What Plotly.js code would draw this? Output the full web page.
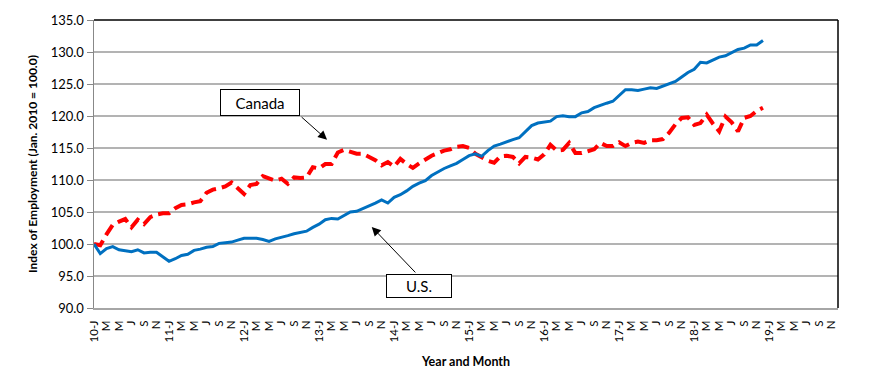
<!DOCTYPE html>
<html>
<head>
<meta charset="utf-8">
<script src="https://cdn.plot.ly/plotly-3.0.1.min.js"></script>
<style>
html,body{margin:0;padding:0;background:#fff;}
#chart{width:870px;height:379px;}
</style>
</head>
<body>
<div id="chart"></div>
<script>
// Categories: monthly, Jan 2010 - Dec 2019
const months = [];
for (let y = 2010; y <= 2019; y++) {
  for (let m = 1; m <= 12; m++) months.push(y + '-' + (m < 10 ? '0' + m : m));
}

// Tick labels shown every second month
const tickLabels = [
  '10-J','M','M','J','S','N',
  '11-J','M','M','J','S','N',
  '12-J','M','M','J','S','N',
  '13-J','M','M','J','S','N',
  '14-J','M','M','J','S','N',
  '15-J','M','M','J','S','N',
  '16-J','M','M','J','S','N',
  '17-J','M','M','J','S','N',
  '18-J','M','M','J','S','N',
  '19-J','M','M','J','S','N'
];

// U.S. index of employment (Jan 2010 = 100), Jan 2010 - Dec 2018
const usValues = [
  100.0, 98.5, 99.3, 99.6, 99.1, 99.0, 98.8, 99.1, 98.6, 98.7, 98.7, 98.0,
  97.3, 97.7, 98.2, 98.4, 99.0, 99.2, 99.5, 99.6, 100.1, 100.2, 100.3, 100.6,
  100.9, 100.9, 100.9, 100.7, 100.4, 100.8, 101.0, 101.3, 101.6, 101.8, 102.0, 102.6,
  103.1, 103.8, 104.0, 103.9, 104.5, 105.0, 105.1, 105.5, 106.0, 106.4, 106.9, 106.4,
  107.3, 107.7, 108.3, 109.0, 109.5, 109.9, 110.7, 111.3, 111.8, 112.2, 112.6, 113.2,
  113.8, 114.1, 113.7, 114.6, 115.3, 115.6, 116.0, 116.3, 116.6, 117.5, 118.5, 118.9,
  119.0, 119.2, 119.9, 120.05, 119.9, 119.9, 120.5, 120.7, 121.3, 121.7, 122.0, 122.3,
  123.2, 124.1, 124.1, 124.0, 124.2, 124.4, 124.3, 124.7, 125.1, 125.4, 126.1, 126.8,
  127.3, 128.4, 128.3, 128.7, 129.2, 129.4, 129.9, 130.4, 130.6, 131.1, 131.1, 131.8
];

// Canada index of employment (Jan 2010 = 100), Jan 2010 - Dec 2018
const canadaValues = [
  100.0, 99.8, 101.5, 103.0, 103.5, 103.9, 102.6, 103.8, 103.1, 104.2, 104.6, 104.8,
  104.8, 105.6, 106.1, 106.2, 106.5, 106.7, 108.0, 108.5, 108.7, 109.0, 109.6, 108.6,
  107.8, 109.2, 109.4, 110.6, 110.2, 109.9, 110.2, 109.4, 110.4, 110.3, 110.4, 112.0,
  111.8, 112.5, 112.5, 114.3, 114.7, 114.4, 114.1, 114.1, 113.6, 113.1, 112.3, 112.8,
  112.1, 113.3, 112.5, 111.9, 112.6, 113.2, 113.8, 114.2, 114.6, 114.8, 115.2, 115.3,
  115.0, 114.1, 113.5, 113.0, 112.7, 113.7, 113.8, 113.6, 112.6, 113.6, 113.5, 113.2,
  114.0, 115.5, 114.6, 114.7, 115.8, 114.2, 114.2, 114.5, 114.8, 115.8, 115.3, 115.3,
  115.9, 115.3, 115.8, 116.0, 115.8, 116.2, 116.2, 116.4, 117.4, 118.7, 119.7, 119.8,
  118.6, 118.9, 120.2, 118.8, 117.6, 119.9, 119.0, 117.6, 119.7, 120.0, 120.8, 121.3
];

const tickVals = months.filter((_, i) => i % 2 === 0);
const FONT = 'Lato, "Open Sans", sans-serif';

const traces = [
  {
    x: months.slice(0, canadaValues.length),
    y: canadaValues,
    type: 'scatter', mode: 'lines', name: 'Canada',
    line: {color: '#FF0000', width: 4, dash: '12px,6px'},
    hoverinfo: 'x+y'
  },
  {
    x: months.slice(0, usValues.length),
    y: usValues,
    type: 'scatter', mode: 'lines', name: 'U.S.',
    line: {color: '#0070C0', width: 3},
    hoverinfo: 'x+y'
  }
];

const layout = {
  width: 870, height: 379,
  margin: {l: 94, r: 32, t: 20, b: 71},
  paper_bgcolor: '#fff', plot_bgcolor: '#fff',
  showlegend: false,
  font: {family: FONT, color: '#000', size: 12},
  xaxis: {
    type: 'category',
    categoryarray: months, categoryorder: 'array',
    range: [0, 119],
    tickvals: tickVals, ticktext: tickLabels,
    tickangle: -90,
    tickfont: {family: FONT, size: 11.5, color: '#000'},
    ticks: 'outside', ticklen: 6, tickcolor: 'rgba(0,0,0,0)',
    showgrid: false, zeroline: false,
    showline: true, linecolor: '#a6a6a6', linewidth: 2,
    title: {text: '<b>Year and Month</b>', font: {family: FONT, size: 12.5, color: '#000'}, standoff: 16}
  },
  yaxis: {
    range: [90, 135], dtick: 5, tick0: 90,
    tickformat: '.1f',
    tickfont: {family: FONT, size: 13, color: '#000'},
    ticks: 'outside', ticklen: 6, tickcolor: '#888', tickwidth: 1,
    showgrid: true, gridcolor: '#b3b3b3', gridwidth: 1.5,
    zeroline: false,
    showline: true, linecolor: '#888', linewidth: 1.5,
    title: {text: '<b>Index of Employment (Jan. 2010 = 100.0)</b>', font: {family: FONT, size: 12, color: '#000'}, standoff: 10}
  },
  shapes: [
    {type: 'line', xref: 'paper', yref: 'paper', x0: 0, x1: 1, y0: 1, y1: 1, line: {color: '#000', width: 1.5}},
    {type: 'line', xref: 'paper', yref: 'paper', x0: 1, x1: 1, y0: 0, y1: 1, line: {color: '#000', width: 1.5}}
  ],
  annotations: [
    {
      xref: 'x', yref: 'y', x: 26.56, y: 122.14, text: 'Canada', showarrow: false,
      font: {family: FONT, size: 15, color: '#000'},
      bgcolor: '#fff', bordercolor: '#000', borderwidth: 1, borderpad: 3,
      width: 72, height: 19
    },
    {
      xref: 'x', yref: 'y', x: 37.28, y: 116.29, text: '', showarrow: true,
      ax: -27, ay: -24, arrowhead: 2, arrowsize: 1.8, arrowwidth: 1, arrowcolor: '#000'
    },
    {
      xref: 'x', yref: 'y', x: 52.0, y: 93.5, text: 'U.S.', showarrow: false,
      font: {family: FONT, size: 15, color: '#000'},
      bgcolor: '#fff', bordercolor: '#000', borderwidth: 1, borderpad: 3,
      width: 58, height: 16
    },
    {
      xref: 'x', yref: 'y', x: 44.43, y: 102.67, text: '', showarrow: true,
      ax: 45, ay: 47, arrowhead: 2, arrowsize: 1.8, arrowwidth: 1, arrowcolor: '#000'
    }
  ]
};

Plotly.newPlot('chart', traces, layout, {displayModeBar: false, staticPlot: true});
</script>
</body>
</html>
